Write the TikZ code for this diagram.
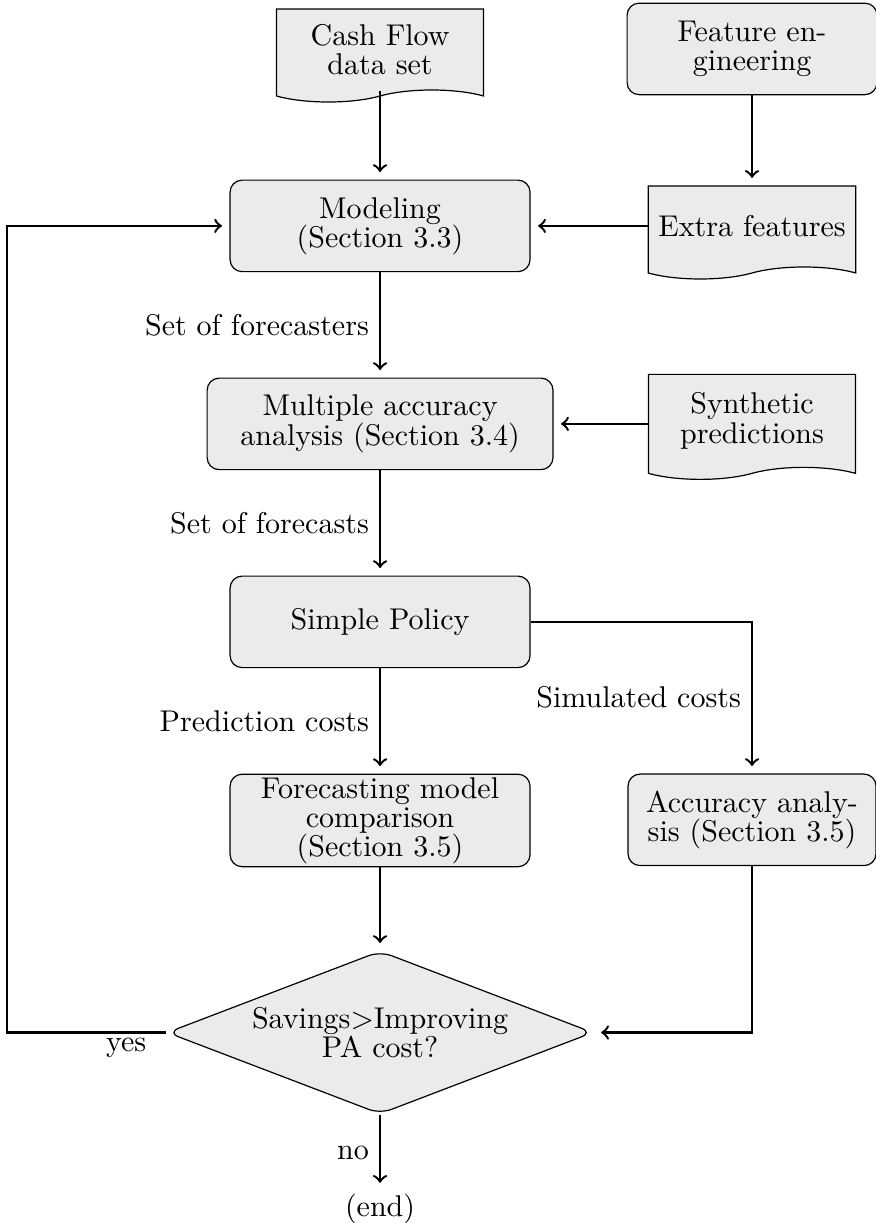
\documentclass[tikz,border=0pt]{standalone}
\usetikzlibrary{shapes.geometric,shapes.symbols}
\colorlet{boxfill}{black!8}
\begin{document}
\begin{tikzpicture}[x=1pt,y=1pt,
    txt/.style={font=\fontsize{10}{9.7}\selectfont},
    procbox/.style={txt,rectangle,rounded corners=4pt,draw,fill=boxfill,align=center,minimum height=30.5pt},
    databox/.style={txt,tape,draw,fill=boxfill,tape bend top=none,tape bend bottom=in and out,tape bend height=4pt,minimum width=69pt,minimum height=31pt,align=center},
    decbox/.style={txt,diamond,draw,fill=boxfill,rounded corners=4pt,aspect=2.6,inner sep=0pt,minimum width=142pt,minimum height=54.3pt,align=center},
    arr/.style={->,thick,shorten >=2.5pt}]
  \useasboundingbox (0,0) rectangle (292,-407.7);
  \node [databox] (cash) at (126.7,-16.5) {Cash Flow\\data set};
  \node [procbox,minimum width=83.3pt] (feat) at (250.7,-16.3) {Feature en-\\gineering};
  \node [procbox,minimum width=100pt] (model) at (126.7,-75.3) {Modeling\\(Section 3.3)};
  \node [databox] (extra) at (250.7,-75.5) {Extra features};
  \node [procbox,minimum width=115.3pt] (multi) at (126.7,-141.3) {Multiple accuracy\\analysis (Section 3.4)};
  \node [databox,minimum height=35pt] (synth) at (250.7,-140.3) {Synthetic\\predictions};
  \node [procbox,minimum width=100pt] (policy) at (126.7,-207.3) {Simple Policy};
  \node [procbox,minimum width=100pt,inner ysep=1pt] (compare) at (126.7,-273.5) {Forecasting model\\comparison\\(Section 3.5)};
  \node [procbox,minimum width=82.7pt] (accur) at (250.7,-273.3) {Accuracy analy-\\sis (Section 3.5)};
  \node [decbox] (decide) at (126.7,-344.2) {Savings$>$Improving\\PA cost?};
  \node [txt,inner sep=1pt] (end) at (126.7,-403) {(end)};
  \coordinate (loop) at (2.3,-344.2);
  \draw [arr] (cash.south) -- (model.north);
  \draw [arr] (feat.south) -- (extra.north);
  \draw [arr] (extra.west |- model) -- (model.east);
  \draw [arr] (model.south) -- node [txt,left] (forecasters) {Set of forecasters} (multi.north);
  \draw [arr] (synth.west |- multi) -- (multi.east);
  \draw [arr] (multi.south) -- node [txt,left] (forecasts) {Set of forecasts} (policy.north);
  \draw [arr] (policy.south) -- node [txt,left] (predcosts) {Prediction costs} (compare.north);
  \draw [arr] (policy.east) -| node [txt,pos=0.75,left] (simcosts) {Simulated costs} (accur.north);
  \draw [arr] (compare.south) -- (decide.north);
  \draw [arr] (accur.south) |- (decide.east);
  \draw [arr] (decide.west) -- node [txt,pos=0,below left,xshift=-3pt,yshift=2pt] (yes) {yes} (loop) |- (model.west);
  \draw [arr] (decide.south) -- node [txt,left] (no) {no} (end.north);
\end{tikzpicture}
\end{document}
